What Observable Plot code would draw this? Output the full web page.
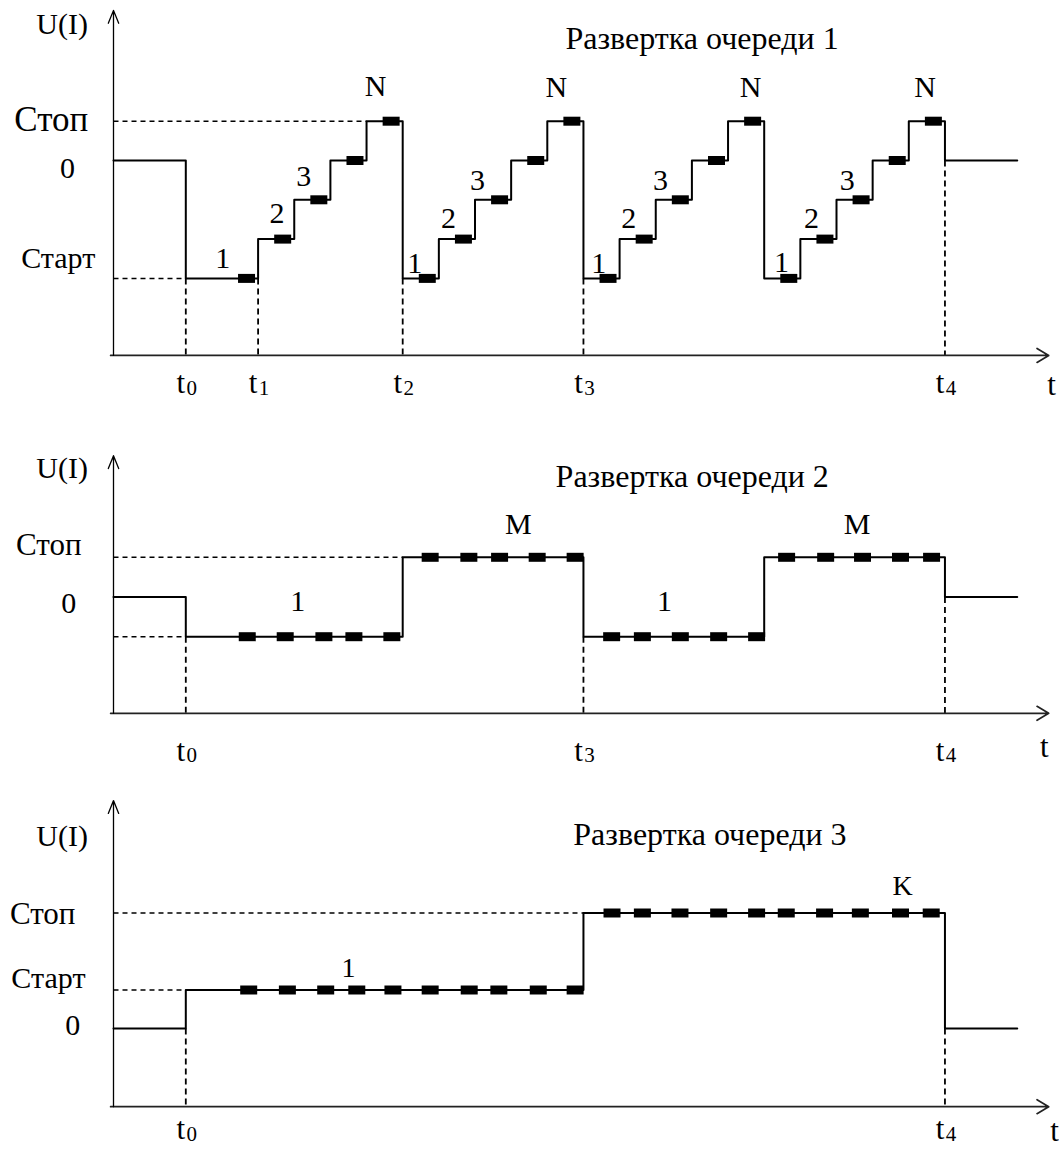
<!DOCTYPE html>
<html>
<head>
<meta charset="utf-8">
<script src="https://cdn.jsdelivr.net/npm/d3@7"></script>
<script src="https://cdn.jsdelivr.net/npm/@observablehq/plot@0.6"></script>
<style>
  html, body { margin: 0; padding: 0; background: #fff; }
  #chart svg { display: block; }
</style>
</head>
<body>
<div id="chart"></div>
<script>
// ---------------- DATA ----------------
// Panel 1: "Развертка очереди 1" (step function, levels in units: Старт=-3, 0=0, Стоп=1)
const p1StepX = [0, 2, 4, 5, 6, 7, 8, 9, 10, 11, 12, 13, 14, 15, 16, 17, 18, 19, 20, 21, 22, 23, 25];
const p1StepV = [0, -3, -2, -1, 0, 1, -3, -2, -1, 0, 1, -3, -2, -1, 0, 1, -3, -2, -1, 0, 1, 0, 0];
const p1StepText = ["1","2","3","N","1","2","3","N","1","2","3","N","1","2","3","N"];
const p1StepTextX = [3.02, 4.52, 5.26, 7.25, 8.33, 9.27, 10.07, 12.25, 13.42, 14.25, 15.13, 17.62, 18.48, 19.31, 20.3, 22.45];
const p1StepTextV = [-2.49, -1.35, -0.4, 1.88, -2.62, -1.48, -0.51, 1.86, -2.62, -1.48, -0.51, 1.86, -2.6, -1.48, -0.51, 1.86];
const p1TickX = [2, 4, 8, 13, 23];
const p1TickSub = ["0", "1", "2", "3", "4"];
const p1Levels = {stop: 1, zero: 0, start: -3};

// Panel 2: "Развертка очереди 2" (levels: low=-1, 0=0, Стоп=1)
const p2StepX = [0, 2, 8, 13, 18, 23, 25];
const p2StepV = [0, -1, 1, -1, 1, 0, 0];
const p2MarkLow1 = [3.70, 4.75, 5.82, 6.65, 7.70];
const p2MarkHigh1 = [8.76, 9.83, 10.68, 11.72, 12.77];
const p2MarkLow2 = [13.78, 14.63, 15.68, 16.74, 17.79];
const p2MarkHigh2 = [18.62, 19.70, 20.72, 21.77, 22.63];
const p2Text = ["1", "M", "1", "M"];
const p2TextX = [5.1, 11.2, 15.24, 20.57];
const p2TextV = [-0.12, 1.84, -0.1, 1.84];
const p2TickX = [2, 13, 23];
const p2TickSub = ["0", "3", "4"];
const p2Levels = {stop: 1, zero: 0, low: -1};

// Panel 3: "Развертка очереди 3" (levels: 0=0, Старт=1, Стоп=3)
const p3StepX = [0, 2, 13, 23, 25];
const p3StepV = [0, 1, 3, 0, 0];
const p3MarkStart = [3.74, 4.81, 5.87, 6.73, 7.73, 8.76, 9.84, 10.66, 11.75, 12.77];
const p3MarkStop = [13.79, 14.63, 15.67, 16.74, 17.79, 18.61, 19.67, 20.66, 21.77, 22.62];
const p3Text = ["1", "K"];
const p3TextX = [6.5, 21.83];
const p3TextV = [1.56, 3.69];
const p3TickX = [2, 23];
const p3TickSub = ["0", "4"];
const p3Levels = {stop: 3, start: 1, zero: 0};

// ---------------- DRAWING ----------------
const FONT = "'Liberation Serif', 'Times New Roman', serif";
const X_UNIT = 36.15, X_ORIGIN = 113;
const xScale = {domain: [0, 26], range: [X_ORIGIN, X_ORIGIN + 26 * X_UNIT], axis: null};

const rectSym = {
  draw(ctx) {
    ctx.moveTo(-8.5, -4.5); ctx.lineTo(8.5, -4.5); ctx.lineTo(8.5, 4.5); ctx.lineTo(-8.5, 4.5); ctx.closePath();
  }
};

const zip = (xs, vs) => xs.map((x, i) => ({x, v: vs[i]}));

function panel({height, y, stepX, stepV, markers, hGuides, vGuides, axisV, topV,
                yLabels, labels, labelSize, title, titleX, titleV,
                tickX, tickSub, tickV, tName}) {
  const steps = zip(stepX, stepV);
  const T = (data, o) => Plot.text(data, {fontFamily: FONT, fill: "black", ...o});
  return Plot.plot({
    width: 1059, height,
    margin: 0,
    style: {background: "white", overflow: "visible"},
    x: xScale,
    y: {...y, axis: null},
    marks: [
      // dashed guide lines
      Plot.link(hGuides, {x1: "x1", x2: "x2", y1: "v", y2: "v", stroke: "black", strokeWidth: 1.5, strokeDasharray: "5,4"}),
      Plot.link(vGuides, {x1: "x", x2: "x", y1: "v", y2: () => axisV, stroke: "black", strokeWidth: 1.8, strokeDasharray: "6,4"}),
      // axes with arrows
      Plot.arrow([0], {x1: () => -0.08, x2: () => 25.87, y1: () => axisV, y2: () => axisV,
        stroke: "#222", strokeWidth: 1.7, headLength: 12, headAngle: 62}),
      Plot.arrow([0], {x1: () => 0, x2: () => 0, y1: () => axisV, y2: () => topV,
        stroke: "black", strokeWidth: 1.3, headLength: 16, headAngle: 44}),
      // step signal
      Plot.line(steps, {x: "x", y: "v", curve: "step-after", stroke: "black", strokeWidth: 2}),
      // sample markers
      Plot.dot(markers, {x: "x", y: "v", symbol: rectSym, fill: "black", stroke: "none"}),
      // y-axis labels
      ...yLabels.map(l => T([l], {x: () => l.x, y: () => l.v, text: () => l.text, fontSize: l.size})),
      // step labels
      T(labels, {x: "x", y: "v", text: "text", fontSize: labelSize}),
      // title
      T([title], {x: () => titleX, y: () => titleV, text: d => d, fontSize: 32, textAnchor: "start"}),
      // tick labels t_i
      T(tickX, {x: d => d, y: () => tickV, text: () => "t", fontSize: 31, dx: -5}),
      T(tickX, {x: d => d, y: () => tickV, text: (d, i) => tickSub[i], fontSize: 21, dx: 6, dy: 5}),
      T(["t"], {x: () => tName.x, y: () => tName.v, text: d => d, fontSize: 31})
    ]
  });
}

const root = document.getElementById("chart");

// Panel 1
{
  const markers = [];
  for (let i = 1; i <= 20; i++) markers.push({x: p1StepX[i + 1] - 0.32, v: p1StepV[i]});
  const labels = p1StepText.map((t, i) => ({text: t, x: p1StepTextX[i], v: p1StepTextV[i]}));
  root.appendChild(panel({
    height: 410,
    y: {domain: [-3, 1], range: [160 + 3 * 39.3, 160 - 39.3]},
    stepX: p1StepX, stepV: p1StepV, markers,
    hGuides: [{x1: 0, x2: 7, v: p1Levels.stop}, {x1: 0, x2: 2, v: p1Levels.start}],
    vGuides: [{x: 2, v: p1Levels.start}, {x: 4, v: p1Levels.start}, {x: 8, v: p1Levels.start}, {x: 13, v: p1Levels.start}, {x: 23, v: p1Levels.zero}],
    axisV: -4.96, topV: 3.82,
    yLabels: [
      {text: "U(I)", x: -1.42, v: 3.46, size: 30},
      {text: "Стоп", x: -1.72, v: 1.04, size: 35},
      {text: "0", x: -1.27, v: -0.2, size: 30},
      {text: "Старт", x: -1.53, v: -2.49, size: 30}
    ],
    labels, labelSize: 30,
    title: "Развертка очереди 1", titleX: 12.5, titleV: 3.11,
    tickX: p1TickX, tickSub: p1TickSub, tickV: -5.67, tName: {x: 25.95, v: -5.72}
  }));
}

// Panel 2
{
  const markers = [
    ...p2MarkLow1.map(x => ({x, v: p2Levels.low})),
    ...p2MarkHigh1.map(x => ({x, v: p2Levels.stop})),
    ...p2MarkLow2.map(x => ({x, v: p2Levels.low})),
    ...p2MarkHigh2.map(x => ({x, v: p2Levels.stop}))
  ];
  const labels = p2Text.map((t, i) => ({text: t, x: p2TextX[i], v: p2TextV[i]}));
  root.appendChild(panel({
    height: 365,
    y: {domain: [-1, 1], range: [186.5 + 39.7, 186.5 - 39.7]},
    stepX: p2StepX, stepV: p2StepV, markers,
    hGuides: [{x1: 0, x2: 8, v: p2Levels.stop}, {x1: 0, x2: 2, v: p2Levels.low}],
    vGuides: [{x: 2, v: p2Levels.low}, {x: 13, v: p2Levels.low}, {x: 23, v: p2Levels.zero}],
    axisV: -2.93, topV: 3.56,
    yLabels: [
      {text: "U(I)", x: -1.42, v: 3.23, size: 30},
      {text: "Стоп", x: -1.79, v: 1.3, size: 31},
      {text: "0", x: -1.24, v: -0.15, size: 30}
    ],
    labels, labelSize: 30,
    title: "Развертка очереди 2", titleX: 12.23, titleV: 3.02,
    tickX: p2TickX, tickSub: p2TickSub, tickV: -3.87, tName: {x: 25.75, v: -3.79}
  }));
}

// Panel 3
{
  const markers = [
    ...p3MarkStart.map(x => ({x, v: p3Levels.start})),
    ...p3MarkStop.map(x => ({x, v: p3Levels.stop}))
  ];
  const labels = p3Text.map((t, i) => ({text: t, x: p3TextX[i], v: p3TextV[i]}));
  root.appendChild(panel({
    height: 374,
    y: {domain: [0, 3], range: [253, 253 - 3 * 38.5]},
    stepX: p3StepX, stepV: p3StepV, markers,
    hGuides: [{x1: 0, x2: 13, v: p3Levels.stop}, {x1: 0, x2: 2, v: p3Levels.start}],
    vGuides: [{x: 2, v: p3Levels.zero}, {x: 23, v: p3Levels.zero}],
    axisV: -2.03, topV: 5.92,
    yLabels: [
      {text: "U(I)", x: -1.42, v: 4.98, size: 30},
      {text: "Стоп", x: -1.96, v: 2.98, size: 31},
      {text: "Старт", x: -1.8, v: 1.29, size: 30},
      {text: "0", x: -1.13, v: 0.07, size: 30}
    ],
    labels, labelSize: 28,
    title: "Развертка очереди 3", titleX: 12.72, titleV: 5.02,
    tickX: p3TickX, tickSub: p3TickSub, tickV: -2.62, tName: {x: 26.03, v: -2.66}
  }));
}
</script>
</body>
</html>
